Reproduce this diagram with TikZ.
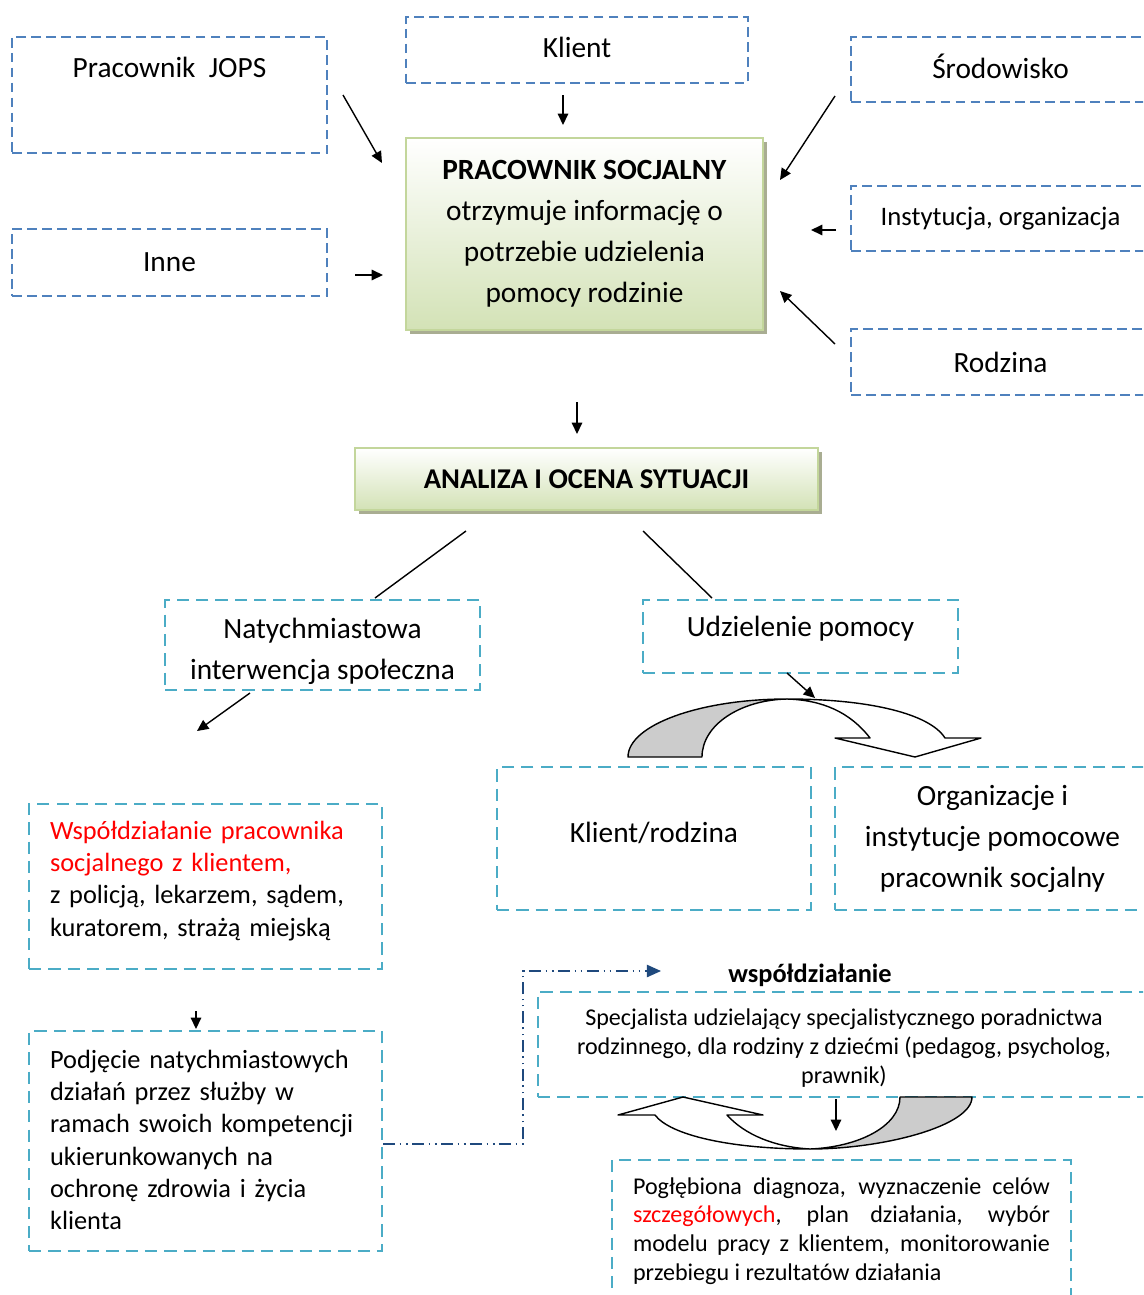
\documentclass[tikz,border=0pt]{standalone}
\usepackage{fontspec}
\setmainfont{Carlito}
\usepackage{xcolor}
\usepackage{tikz}
\usetikzlibrary{
    arrows.meta,
    positioning,
    calc,
    shadows
}
\definecolor{jopsblue}{HTML}{4F81BD}
\definecolor{jopscyan}{HTML}{4BACC6}
\definecolor{jopsnavy}{HTML}{1F497D}
\definecolor{jopsgreen}{HTML}{D3E2B6}
\definecolor{jopsgreenedge}{HTML}{C3D69B}
\definecolor{jopsshadow}{HTML}{A9AD92}
\definecolor{jopsgrey}{HTML}{CCCCCC}
\definecolor{jopsred}{HTML}{FF0000}
\tikzset{
    % Source box (blue dashed)
    srcbox/.style={
        rectangle,
        draw=jopsblue,
        line width=1pt,
        dash pattern=on 5.5pt off 3pt,
        minimum width=6.3cm,
        minimum height=1.32cm,
        align=center,
        inner sep=2pt,
        font=\fontsize{16.7}{20}\selectfont
    },
    % Step box (cyan dashed)
    stepbox/.style={
        rectangle,
        draw=jopscyan,
        line width=1.2pt,
        dash pattern=on 7pt off 4pt,
        minimum width=6.3cm,
        align=center,
        inner sep=2pt,
        font=\fontsize{16.7}{23.3}\selectfont
    },
    % Left text (inside cyan box)
    notetext/.style={
        text width=6.22cm,
        inner sep=0pt,
        align=left,
        font=\fontsize{15}{18.3}\selectfont
    },
    % Green header box
    headbox/.style={
        rectangle,
        draw=jopsgreenedge,
        line width=1pt,
        top color=white,
        bottom color=jopsgreen,
        drop shadow={shadow xshift=2.5pt, shadow yshift=-2.5pt, fill=jopsshadow, opacity=1},
        align=center,
        font=\fontsize{16.7}{23.3}\selectfont
    },
    % Arrow style
    jopsarrow/.style={
        -{Triangle[length=6.5pt,width=6pt]},
        line width=0.8pt,
        color=black
    },
    jopsline/.style={
        line width=0.8pt,
        color=black
    },
    % Dash dot dot connector
    navyarrow/.style={
        -{Triangle[length=8pt,width=7pt]},
        line width=0.8pt,
        color=jopsnavy,
        dash pattern=on 7pt off 2.5pt on 1pt off 2.5pt on 1pt off 2.5pt
    },
    % Curved block arrow
    bendarrow/.style={
        draw=black,
        line width=0.8pt,
        line join=round
    }
}

\begin{document}
\begin{tikzpicture}[x=0.02cm, y=-0.02cm]

    \useasboundingbox (0,0) rectangle (1143,1295);
    \clip (0,0) rectangle (1143,1295);

    % Sources of information
    \node[srcbox, minimum height=2.32cm] (jops) at (169.5,95) {};
    \node[font=\fontsize{16.7}{20}\selectfont] (jopstext) at (169.5,67) {Pracownik\ \ JOPS};
    \node[srcbox, minimum width=6.84cm] (klient) at (577,50) {};
    \node[font=\fontsize{16.7}{20}\selectfont] (klienttext) at (577,47) {Klient};
    \node[srcbox, minimum width=5.98cm, minimum height=1.3cm] (srod) at (1000.5,69.5) {};
    \node[font=\fontsize{16.7}{20}\selectfont] (srodtext) at (1000.5,66) {Środowisko};
    \node[srcbox, minimum width=5.98cm, minimum height=1.3cm, font=\fontsize{15.2}{18}\selectfont] (inst) at (1000.5,218.5) {Instytucja, organizacja};
    \node[srcbox, minimum width=5.98cm] (rodz) at (1000.5,362) {Rodzina};
    \node[srcbox, minimum height=1.34cm] (inne) at (169.5,262.5) {Inne};

    % Social worker
    \node[headbox, minimum width=7.14cm, minimum height=3.84cm] (prac) at (584.5,234)
        {\textbf{PRACOWNIK SOCJALNY}\\otrzymuje informację o\\potrzebie udzielenia\\pomocy rodzinie};

    % Analysis
    \node[headbox, minimum width=9.26cm, minimum height=1.24cm, font=\fontsize{16.3}{20}\selectfont] (anal) at (586.5,479)
        {\textbf{ANALIZA I OCENA SYTUACJI}};

    % Two paths
    \node[stepbox, minimum height=1.8cm] (natych) at (322.5,645) {};
    \node[align=center, font=\fontsize{16.7}{23.3}\selectfont] (natychtext) at (322.5,651) {Natychmiastowa\\interwencja społeczna};
    \node[stepbox, minimum height=1.46cm] (udziel) at (800.5,636.5) {};
    \node[font=\fontsize{16.7}{20}\selectfont] (udzieltext) at (800.5,629) {Udzielenie pomocy};
    \node[stepbox, minimum width=6.28cm, minimum height=2.86cm] (klrodz) at (654,838.5) {};
    \node[font=\fontsize{16.7}{20}\selectfont] (klrodztext) at (654,833) {Klient/rodzina};
    \node[stepbox, minimum height=2.86cm] (organ) at (992.5,838.5)
        {Organizacje i\\instytucje pomocowe\\pracownik socjalny};

    % Left column
    \node[stepbox, minimum width=7.06cm, minimum height=3.3cm] (wspol) at (205.5,886.5) {};
    \node[notetext] (wspoltext) at (205.5,881)
        {\textcolor{jopsred}{Współdziałanie pracownika}\\\textcolor{jopsred}{socjalnego z klientem,}\\z policją, lekarzem, sądem,\\kuratorem, strażą miejską};
    \node[stepbox, minimum width=7.06cm, minimum height=4.4cm] (podj) at (205.5,1141) {};
    \node[notetext] (podjtext) at (205.5,1140)
        {Podjęcie natychmiastowych\\działań przez służby w\\ramach swoich kompetencji\\ukierunkowanych na\\ochronę zdrowia i życia\\klienta};

    % Right column
    \node[font=\fontsize{15}{18}\selectfont\bfseries] (wsplabel) at (810,975) {współdziałanie};
    \node[stepbox, minimum width=12.24cm, minimum height=2.1cm] (spec) at (844,1044.5) {};
    \node[align=center, font=\fontsize{13.7}{16.4}\selectfont] (spectext) at (844,1048)
        {Specjalista udzielający specjalistycznego poradnictwa\\rodzinnego, dla rodziny z dziećmi (pedagog, psycholog,\\prawnik)};
    \node[stepbox, minimum width=9.18cm, minimum height=2.9cm] (diag) at (841.5,1232.5) {};
    \node[anchor=north, inner sep=0pt, text width=8.34cm, align=justify, font=\fontsize{13.7}{16.4}\selectfont] (diagtext) at (841.5,1177)
        {Pogłębiona diagnoza, wyznaczenie celów\linebreak
         \textcolor{jopsred}{szczegółowych}, plan działania, wybór\linebreak
         modelu pracy z klientem, monitorowanie\linebreak
         przebiegu i rezultatów działania};

    % Arrow ends
    \coordinate (jopsA) at (343,95);   \coordinate (jopsB) at (382,163);
    \coordinate (klA) at (563,95);     \coordinate (klB) at (563,125);
    \coordinate (srodA) at (835,96);   \coordinate (srodB) at (780,180);
    \coordinate (instA) at (836,230);  \coordinate (instB) at (811,230);
    \coordinate (inneA) at (355,275);  \coordinate (inneB) at (383,275);
    \coordinate (rodzA) at (835,344);  \coordinate (rodzB) at (780,291);
    \coordinate (pracA) at (577,402);  \coordinate (pracB) at (577,434);
    \coordinate (analL) at (466,531);  \coordinate (analLe) at (375,598);
    \coordinate (analR) at (643,531);  \coordinate (analRe) at (712,598);
    \coordinate (natA) at (250,693);   \coordinate (natB) at (197,731);
    \coordinate (udzA) at (787,673);   \coordinate (udzB) at (815,698);
    \coordinate (wspA) at (196,1011);  \coordinate (wspB) at (196,1029);
    \coordinate (specA) at (836,1099); \coordinate (specB) at (836,1131);
    \coordinate (navyTip) at (661,971);

    % Arrows to social worker
    \draw[jopsarrow] (jopsA) -- (jopsB);
    \draw[jopsarrow] (klA) -- (klB);
    \draw[jopsarrow] (srodA) -- (srodB);
    \draw[jopsarrow] (instA) -- (instB);
    \draw[jopsarrow] (inneA) -- (inneB);
    \draw[jopsarrow] (rodzA) -- (rodzB);
    \draw[jopsarrow] (pracA) -- (pracB);

    % Split after analysis
    \draw[jopsline] (analL) -- (analLe);
    \draw[jopsline] (analR) -- (analRe);
    \draw[jopsarrow] (natA) -- (natB);
    \draw[jopsarrow] (wspA) -- (wspB);

    % Upper curved arrow
    \filldraw[bendarrow, fill=white] (787,699) .. controls (870,699) and (930,714) .. (945,738)
        -- (981,738) -- (915,757) -- (835,738) -- (870,738)
        .. controls (850,712) and (822,700) .. (787,699) -- cycle;
    \filldraw[bendarrow, fill=jopsgrey] (628,757) .. controls (628,725) and (700,699) .. (787,699)
        .. controls (740,700) and (702,725) .. (702,757) -- cycle;
    \draw[jopsarrow] (udzA) -- (udzB);

    % Lower curved arrow
    \filldraw[bendarrow, fill=white] (810,1149) .. controls (730,1149) and (670,1135) .. (655,1115)
        -- (618,1115) -- (683,1097) -- (763,1115) -- (727,1115)
        .. controls (745,1135) and (775,1147) .. (810,1149) -- cycle;
    \filldraw[bendarrow, fill=jopsgrey] (900,1097) -- (972,1097) .. controls (972,1126) and (883,1149) .. (810,1149)
        .. controls (859,1147) and (900,1126) .. (900,1097) -- cycle;
    \draw[jopsarrow] (specA) -- (specB);

    % Cooperation connector
    \draw[navyarrow] ([yshift=-0.06cm]podj.east) -- ++(140,0) |- (navyTip);

\end{tikzpicture}
\end{document}
